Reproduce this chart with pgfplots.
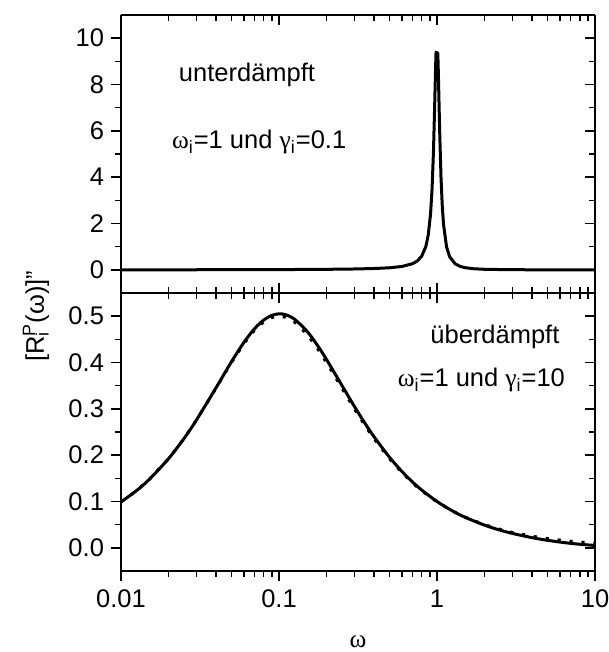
\documentclass[border=0pt]{standalone}
\usepackage{fontspec}
\setmainfont{Liberation Sans}
\newfontfamily\grk{Liberation Serif}
\usepackage{pgfplots}
\pgfplotsset{compat=1.18}

\newcommand{\lab}{\fontsize{12.75}{15}\selectfont}

\pgfplotsset{
  every axis/.append style={
    scale only axis, width=237pt, height=139pt,
    xmin=0.01, xmax=10,
    axis line style={line width=0.9pt},
    major tick length=5pt, minor tick length=2.8pt,
    tick style={line width=0.8pt, black},
    tick label style={font=\lab},
    xtick={0.01,0.1,1,10},
    clip=false,
  },
}

\begin{document}
\begin{tikzpicture}

% ---------- lower panel: overdamped ----------
\begin{semilogxaxis}[at={(0,0)}, anchor=south west,
  axis x line*=bottom, axis y line*=left, tick align=outside,
  ymin=-0.05, ymax=0.55, ytick={0,0.1,0.2,0.3,0.4,0.5}, minor y tick num=1,
  xticklabels={0.01,0.1,1,10},
  xticklabel style={yshift=-1pt},
  yticklabel style={/pgf/number format/fixed, /pgf/number format/fixed zerofill,
    /pgf/number format/precision=1, /pgf/number format/assume math mode=true},
]
% Debye relaxation
\addplot[black, line width=1.5pt, dash pattern=on 1.6pt off 4.4pt] coordinates {
(0.01,0.09901)(0.0125,0.12308)(0.015,0.14670)(0.02,0.19231)(0.025,0.23529)
(0.03,0.27523)(0.04,0.34483)(0.05,0.40000)(0.06,0.44118)(0.07,0.46980)
(0.08,0.48780)(0.09,0.49724)(0.1,0.50000)(0.11,0.49774)(0.125,0.48780)
(0.15,0.46154)(0.175,0.43077)(0.2,0.40000)(0.25,0.34483)(0.3,0.30000)
(0.35,0.26415)(0.4,0.23529)(0.5,0.19231)(0.6,0.16216)(0.7,0.14000)
(0.8,0.12308)(1,0.09901)(1.25,0.07949)(1.5,0.06637)(2,0.04988)
(2.5,0.03994)(3,0.03330)(4,0.02498)(5,0.01999)(6,0.01666)
(7,0.01428)(8,0.01250)(10,0.01000)};
% overdamped oscillator
\addplot[black, line width=1.5pt, line join=round, smooth] coordinates {
(0.01,0.09903)(0.0125,0.12311)(0.015,0.14676)(0.02,0.19246)(0.025,0.23557)
(0.03,0.27568)(0.04,0.34578)(0.05,0.40160)(0.06,0.44352)(0.07,0.47290)
(0.08,0.49163)(0.09,0.50171)(0.1,0.50503)(0.11,0.50321)(0.125,0.49378)
(0.15,0.46795)(0.175,0.43726)(0.2,0.40637)(0.25,0.35069)(0.3,0.30525)
(0.35,0.26882)(0.4,0.23944)(0.5,0.19560)(0.6,0.16479)(0.7,0.14210)
(0.8,0.12475)(1,0.10000)(1.25,0.07984)(1.5,0.06621)(2,0.04890)
(2.5,0.03831)(3,0.03112)(4,0.02192)(5,0.01625)(6,0.01244)
(7,0.00972)(8,0.00772)(10,0.00505)};
\node[anchor=east, font=\lab] at (axis cs:6.6,0.455) {überdämpft};
\node[anchor=east, font=\lab] at (axis cs:7.15,0.362)
  {{\grk ω}\textsubscript{i}=1 und {\grk γ}\textsubscript{i}=10};
\end{semilogxaxis}
\begin{semilogxaxis}[at={(0,0)}, anchor=south west,
  axis x line*=top, axis y line*=right, tick align=inside,
  ymin=-0.05, ymax=0.55, ytick={0,0.1,0.2,0.3,0.4,0.5}, minor y tick num=1,
  xticklabels={}, yticklabels={},
]
\addplot[draw=none] coordinates {(1,0)};
\end{semilogxaxis}

% ---------- upper panel: underdamped ----------
\begin{semilogxaxis}[at={(0,139pt)}, anchor=south west,
  axis x line=none, axis y line*=left, tick align=outside,
  ymin=-1, ymax=11, ytick={0,2,4,6,8,10}, minor y tick num=1,
  yticklabel style={/pgf/number format/assume math mode=true},
]
\addplot[black, line width=1.5pt, line join=round] coordinates {
(0.01,0.0010)(0.02,0.0020)(0.05,0.0050)(0.1,0.0102)(0.2,0.0217)
(0.3,0.0362)(0.4,0.0566)(0.5,0.0885)(0.6,0.1452)(0.7,0.2642)
(0.75,0.3807)(0.8,0.5882)(0.85,1.009)(0.88,1.501)(0.91,2.405)
(0.93,3.457)(0.95,5.127)(0.97,7.518)(0.98,8.772)(0.986,9.395)
(1.012,9.349)(1.02,8.475)(1.03,7.194)(1.04,5.952)(1.06,3.998)
(1.08,2.744)(1.1,1.957)(1.15,0.981)(1.2,0.577)(1.3,0.2637)
(1.4,0.1487)(1.5,0.0946)(1.7,0.0472)(2,0.0221)(3,0.00468)
(5,0.00087)(10,0.0001)};
\node[anchor=west, font=\lab] at (axis cs:0.021,8.42) {unterdämpft};
\node[anchor=west, font=\lab] at (axis cs:0.019,5.5)
  {{\grk ω}\textsubscript{i}=1 und {\grk γ}\textsubscript{i}=0.1};
\end{semilogxaxis}
\begin{semilogxaxis}[at={(0,139pt)}, anchor=south west,
  axis x line=box, axis y line*=right, tick align=inside,
  ymin=-1, ymax=11, ytick={0,2,4,6,8,10}, minor y tick num=1,
  xticklabels={}, yticklabels={},
]
\addplot[draw=none] coordinates {(1,0)};
\end{semilogxaxis}

% axis titles: the y title starts level with the 0.4 tick
\node[rotate=90, anchor=west, font=\lab, inner sep=0pt] at (-42.5pt,104.5pt)
  {[R\makebox[0pt][l]{\textsubscript{i}}\textsuperscript{P}(ω)]"};
\node[font=\lab\grk] at (118.5pt,-35.5pt) {ω};

\pgfresetboundingbox
\path (-60.5pt,-40.5pt) rectangle (244pt,285.5pt);
\end{tikzpicture}
\end{document}
